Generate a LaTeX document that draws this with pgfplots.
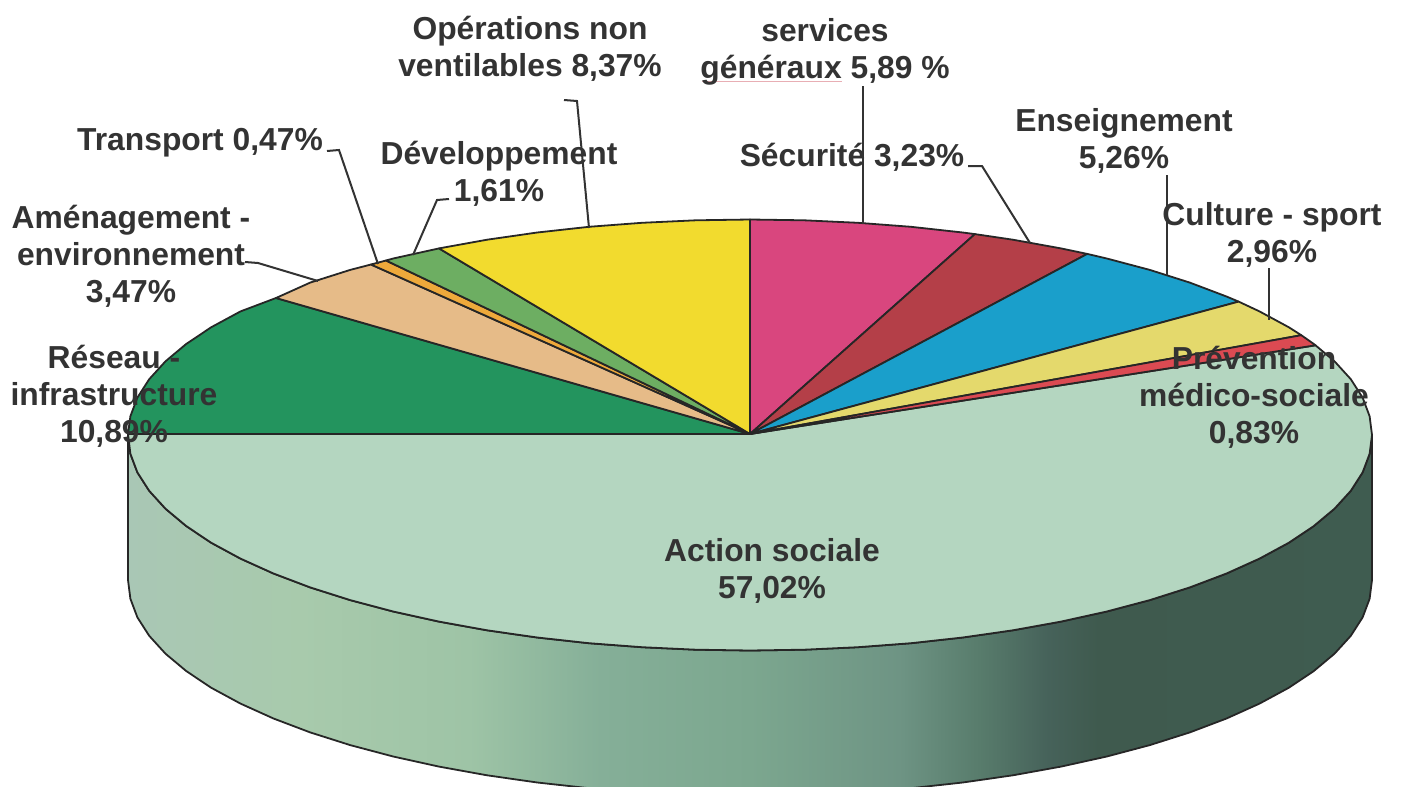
\documentclass[border=0pt]{standalone}
\usepackage{fontspec}
\setmainfont{Liberation Sans}
\usepackage{pgfplots}
\pgfplotsset{compat=1.18}

\definecolor{actiontop}{HTML}{B4D6C0}
\definecolor{cpink}{HTML}{D9467E}
\definecolor{cbrick}{HTML}{B43F48}
\definecolor{cblue}{HTML}{1A9FCB}
\definecolor{cpale}{HTML}{E4D96C}
\definecolor{cred}{HTML}{DB4A52}
\definecolor{cgreen}{HTML}{23945E}
\definecolor{ctan}{HTML}{E6BB88}
\definecolor{corange}{HTML}{EEA93B}
\definecolor{clight}{HTML}{6DAE62}
\definecolor{cyellow}{HTML}{F2DB2E}
\definecolor{txt}{HTML}{333333}
\definecolor{squiggle}{HTML}{E8AEB4}

\definecolor{w0}{HTML}{A9C7B5}
\definecolor{w1}{HTML}{A8CAAC}
\definecolor{w2}{HTML}{9EC4A6}
\definecolor{w3}{HTML}{85AF98}
\definecolor{w4}{HTML}{7CA78F}
\definecolor{w5}{HTML}{6E9484}
\definecolor{w6}{HTML}{587C6C}
\definecolor{w7}{HTML}{46625A}
\definecolor{w8}{HTML}{3F5A4E}
\definecolor{w9}{HTML}{3F5C50}
% x position on the wall maps to 25bp..75bp of the shading
\pgfdeclarehorizontalshading{wallshade}{100bp}{
  color(0bp)=(w0); color(25bp)=(w0); color(31.9bp)=(w1); color(38.7bp)=(w2);
  color(44bp)=(w3); color(50bp)=(w4); color(56bp)=(w5); color(59.2bp)=(w6);
  color(62bp)=(w7); color(64bp)=(w8); color(75bp)=(w9); color(100bp)=(w9)}

\tikzset{
  lab/.style={text=txt, align=center, inner sep=0pt,
    font=\fontsize{31.8}{37}\selectfont\bfseries},
  lead/.style={line width=2pt, draw=black!80},
  edge/.style={line width=1.8pt, draw=black!85, line join=round},
}

\begin{document}
\begin{tikzpicture}
\begin{axis}[
    width=1403pt, height=787pt, scale only axis,
    xmin=0, xmax=1403, ymin=0, ymax=787,
    y dir=reverse,
    hide axis,
    clip=true,
]
% side wall
\addplot[edge, shading=wallshade] coordinates {
  (1372,435) (1369.6,453.8) (1362.6,472.4) (1350.8,490.8) (1334.5,508.7) (1313.7,526.1)
  (1288.7,542.8) (1259.5,558.6) (1226.5,573.5) (1189.8,587.4) (1149.8,600.1) (1106.8,611.5)
  (1061,621.6) (1012.9,630.3) (962.7,637.5) (911,643.2) (858,647.2) (804.2,649.7) (750,650.5)
  (695.8,649.7) (642,647.2) (589,643.2) (537.3,637.5) (487.1,630.3) (439,621.6) (393.2,611.5)
  (350.2,600.1) (310.2,587.4) (273.5,573.5) (240.5,558.6) (211.3,542.8) (186.3,526.1)
  (165.5,508.7) (149.2,490.8) (137.4,472.4) (130.4,453.8) (128,435)
  (128,580) (130.4,598.8) (137.4,617.4) (149.2,635.8) (165.5,653.7) (186.3,671.1) (211.3,687.8)
  (240.5,703.6) (273.5,718.5) (310.2,732.4) (350.2,745.1) (393.2,756.5) (439,766.6) (487.1,775.3)
  (537.3,782.5) (589,788.2) (642,792.2) (695.8,794.7) (750,795.5) (804.2,794.7) (858,792.2)
  (911,788.2) (962.7,782.5) (1012.9,775.3) (1061,766.6) (1106.8,756.5) (1149.8,745.1)
  (1189.8,732.4) (1226.5,718.5) (1259.5,703.6) (1288.7,687.8) (1313.7,671.1) (1334.5,653.7)
  (1350.8,635.8) (1362.6,617.4) (1369.6,598.8) (1372,580) (1372,435)
};
% Action sociale 57,02
\addplot[edge, fill=actiontop] coordinates {
  (750,434) (1315.5,345.3) (1334.5,361.3) (1350.8,379.2) (1362.6,397.6) (1369.6,416.2) (1372,435)
  (1369.6,453.8) (1362.6,472.4) (1350.8,490.8) (1334.5,508.7) (1313.7,526.1)
  (1288.7,542.8) (1259.5,558.6) (1226.5,573.5) (1189.8,587.4) (1149.8,600.1) (1106.8,611.5)
  (1061,621.6) (1012.9,630.3) (962.7,637.5) (911,643.2) (858,647.2) (804.2,649.7) (750,650.5)
  (695.8,649.7) (642,647.2) (589,643.2) (537.3,637.5) (487.1,630.3) (439,621.6) (393.2,611.5)
  (350.2,600.1) (310.2,587.4) (273.5,573.5) (240.5,558.6) (211.3,542.8) (186.3,526.1)
  (165.5,508.7) (149.2,490.8) (137.4,472.4) (130.4,453.8) (128,434) (750,434)
};
% services generaux 5,89
\addplot[edge, fill=cpink] coordinates {
  (750,434) (750,219.5) (804.2,220.3) (858,222.8) (911,226.8) (962.7,232.5) (974.9,234.1) (750,434)
};
% Securite 3,23
\addplot[edge, fill=cbrick] coordinates {
  (750,434) (974.9,234.1) (1012.9,239.7) (1061,248.4) (1087.2,253.9) (750,434)
};
% Enseignement 5,26
\addplot[edge, fill=cblue] coordinates {
  (750,434) (1087.2,253.9) (1106.8,258.5) (1149.8,269.9) (1189.8,282.6) (1226.5,296.5) (1238.6,301.6) (750,434)
};
% Culture - sport 2,96
\addplot[edge, fill=cpale] coordinates {
  (750,434) (1238.6,301.6) (1259.5,311.4) (1288.7,327.2) (1301.3,335.2) (750,434)
};
% Prevention 0,83
\addplot[edge, fill=cred] coordinates {
  (750,434) (1301.3,335.2) (1313.7,343.9) (1315.5,345.3) (750,434)
};
% Reseau 10,89
\addplot[edge, fill=cgreen] coordinates {
  (750,434) (128,434) (130.4,416.2) (137.4,397.6) (149.2,379.2) (165.5,361.3) (186.3,343.9)
  (211.3,327.2) (240.5,311.4) (276,298) (750,434)
};
% Amenagement 3,47
\addplot[edge, fill=ctan] coordinates {
  (750,434) (276,298) (310.2,282.6) (350.2,269.9) (371,264.5) (750,434)
};
% Transport 0,47
\addplot[edge, fill=corange] coordinates {
  (750,434) (371,264.5) (386,260.5) (750,434)
};
% Developpement 1,61
\addplot[edge, fill=clight] coordinates {
  (750,434) (386,260.5) (393.2,258.5) (439,248.4) (750,434)
};
% Operations non ventilables 8,37
\addplot[edge, fill=cyellow] coordinates {
  (750,434) (439,248.4) (487.1,239.7) (537.3,232.5) (589,226.8) (642,222.8) (695.8,220.3) (750,219.5) (750,434)
};

% leader lines
\addplot[lead] coordinates {(327,151) (339,150) (378,264)};
\addplot[lead] coordinates {(449,199) (437,200) (413,255)};
\addplot[lead] coordinates {(245,262) (258,263) (318,281)};
\addplot[lead] coordinates {(564,100) (577,101) (589,228)};
\addplot[lead] coordinates {(863,86) (863,224)};
\addplot[lead] coordinates {(968,166) (982,166) (1030,243)};
\addplot[lead] coordinates {(1167,175) (1167,275)};
\addplot[lead] coordinates {(1269,268) (1269,320)};
% faint spell-check underline from the scan
\addplot[line width=1pt, draw=squiggle] coordinates {(702,81) (842,81)};

% labels
\node[lab] at (axis cs:530,49) {Opérations non\\ventilables 8,37\%};
\node[lab] at (axis cs:825,52) {services\\généraux 5,89 \%};
\node[lab] at (axis cs:852,157.5) {Sécurité 3,23\%};
\node[lab] at (axis cs:1124,141) {Enseignement\\5,26\%};
\node[lab] at (axis cs:1272,235) {Culture - sport\\2,96\%};
\node[lab] at (axis cs:1254,397) {Prévention\\médico-sociale\\0,83\%};
\node[lab] at (axis cs:772,571) {Action sociale\\57,02\%};
\node[lab] at (axis cs:114,396) {Réseau -\\infrastructure\\10,89\%};
\node[lab] at (axis cs:131,256) {Aménagement -\\environnement\\3,47\%};
\node[lab] at (axis cs:200,143) {Transport 0,47\%};
\node[lab] at (axis cs:499,174) {Développement\\1,61\%};
\end{axis}
\pgfresetboundingbox
\path[use as bounding box] (0,0) rectangle (1403pt,787pt);
\end{tikzpicture}
\end{document}
